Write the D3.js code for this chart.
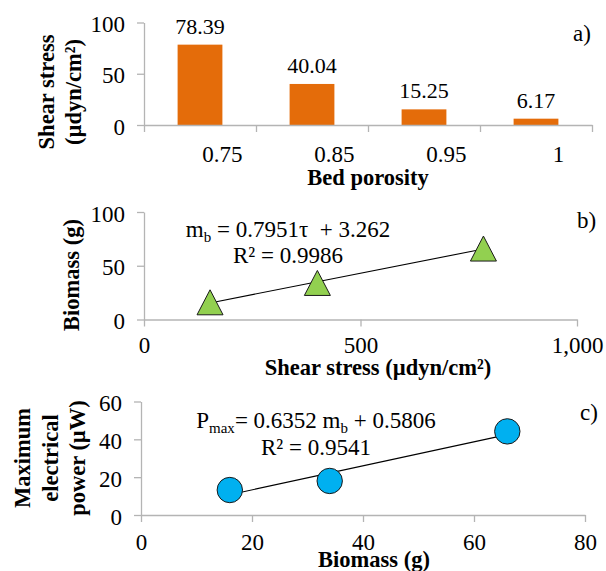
<!DOCTYPE html>
<html>
<head>
<meta charset="utf-8">
<script src="https://cdn.jsdelivr.net/npm/d3@7"></script>
<style>
  html, body { margin: 0; padding: 0; background: #fff; }
  svg { display: block; }
  svg text { white-space: pre; }
</style>
</head>
<body>
<svg id="chart" width="606" height="571"></svg>
<script>
// ---- data ----
const porosity = ["0.75", "0.85", "0.95", "1"];
const shearStress = [78.39, 40.04, 15.25, 6.17];      // µdyn/cm², panel a bars
const tauPoints = [152.5, 400.4, 783.9];              // panel b x values
const biomass = [16, 34, 66];                         // g, panels b (y) and c (x)
const maxPower = [13.2, 18.0, 44.2];                  // µW, panel c y values

const ticksAy = [0, 50, 100];
const ticksBy = [0, 50, 100];
const ticksBx = [0, 500, 1000];
const ticksCy = [0, 20, 40, 60];
const ticksCx = [0, 20, 40, 60, 80];

// linear fits printed on panels b and c
const fitB = { slope: 0.7951, intercept: 3.262, r2: "0.9986" };
const fitC = { slope: 0.6352, intercept: 0.5806, r2: "0.9541" };
const tauAxisFactor = 10;   // panel b's τ axis runs at 10× the bar-chart units

// ---- styles ----
const serif = "'Liberation Serif', 'Times New Roman', Times, serif";
const axisColor = "#b4b4b4";
const barColor = "#E46C0A";
const triColor = "#92D050";
const dotColor = "#00B0F0";
const tickFont = 23;
const titleFont = 22.5;

const svg = d3.select("#chart").attr("font-family", serif);

function styleAxis(g) {
  g.attr("font-family", serif).attr("font-size", tickFont);
  g.select(".domain").attr("stroke", axisColor).attr("stroke-width", 1.3);
  g.selectAll(".tick line").attr("stroke", axisColor).attr("stroke-width", 1.3);
  g.selectAll(".tick text").attr("fill", "#000").attr("font-family", serif);
}

function yAxis(scale, x, values, fmt) {
  const g = svg.append("g").attr("transform", `translate(${x},0)`)
    .call(d3.axisLeft(scale).tickValues(values).tickSize(7).tickSizeOuter(0)
      .tickPadding(12).tickFormat(fmt || d3.format("d")));
  styleAxis(g);
  g.selectAll(".tick text").attr("dy", "0.4em");
  return g;
}

function xAxis(scale, y, values, pad, fmt) {
  const g = svg.append("g").attr("transform", `translate(0,${y})`)
    .call(d3.axisBottom(scale).tickValues(values).tickSize(7).tickSizeOuter(0)
      .tickPadding(pad).tickFormat(fmt || d3.format("d")));
  styleAxis(g);
  return g;
}

function rotatedTitle(lines, cy, baselines) {
  const g = svg.append("g");
  lines.forEach((ln, i) => {
    g.append("text")
      .attr("transform", `translate(${baselines[i]},${cy}) rotate(-90)`)
      .attr("text-anchor", "middle")
      .attr("font-family", serif)
      .attr("font-weight", "bold")
      .attr("font-size", titleFont)
      .text(ln);
  });
}

function addText(x, y, size, txt, anchor, bold) {
  return svg.append("text").attr("x", x).attr("y", y)
    .attr("font-family", serif).attr("font-size", size)
    .attr("text-anchor", anchor || "start")
    .attr("font-weight", bold ? "bold" : null)
    .text(txt);
}

// ================= panel a: bar chart =================
const xA = d3.scaleBand().domain(porosity).range([144, 592]).paddingInner(0.6).paddingOuter(0.3);
const yA = d3.scaleLinear().domain([0, 100]).range([125, 22.5]);

svg.append("g").selectAll("rect").data(porosity).join("rect")
  .attr("x", d => xA(d))
  .attr("y", (d, i) => yA(shearStress[i]))
  .attr("width", xA.bandwidth())
  .attr("height", (d, i) => yA(0) - yA(shearStress[i]))
  .attr("fill", barColor);

svg.append("g").selectAll("text").data(porosity).join("text")
  .attr("x", d => xA(d) + xA.bandwidth() / 2)
  .attr("y", (d, i) => yA(shearStress[i]) - 11)
  .attr("text-anchor", "middle")
  .attr("font-family", serif)
  .attr("font-size", 22)
  .text((d, i) => d3.format(".2f")(shearStress[i]));

yAxis(yA, 144, ticksAy);

// category boundaries carry the tick marks, labels sit under the bars
const boundA = d3.scaleLinear().domain([0, porosity.length]).range(xA.range());
const gA = svg.append("g").attr("transform", `translate(0,${yA(0)})`)
  .call(d3.axisBottom(boundA).tickValues(d3.range(porosity.length + 1)).tickSize(7).tickSizeOuter(0).tickFormat(""));
styleAxis(gA);
const gAl = svg.append("g").attr("transform", `translate(${xA.bandwidth() / 2},${yA(0)})`)
  .call(d3.axisBottom(xA).tickSize(0).tickPadding(21));
styleAxis(gAl);
gAl.select(".domain").remove();

addText(368, 185, titleFont, "Bed porosity", "middle", true);
rotatedTitle(["Shear stress", "(µdyn/cm²)"], 92, [54, 81]);
addText(573, 41, tickFont, "a)");

// ================= panel b: biomass vs shear stress =================
const xB = d3.scaleLinear().domain([0, 1000]).range([144, 577]);
const yB = d3.scaleLinear().domain([0, 100]).range([319.5, 212]);

yAxis(yB, 144, ticksBy);
xAxis(xB, yB(0), ticksBx, 10, d3.format(","));

const lineB = d3.line().x(d => xB(d)).y(d => yB(fitB.slope * d / tauAxisFactor + fitB.intercept));
svg.append("path").attr("d", lineB(d3.extent(tauPoints)))
  .attr("fill", "none").attr("stroke", "#000").attr("stroke-width", 1.1);

const triW = 26, triH = 25;
svg.append("g").selectAll("path").data(tauPoints).join("path")
  .attr("transform", (d, i) => `translate(${xB(d)},${yB(biomass[i])})`)
  .attr("d", `M0,${-triH / 2}L${triW / 2},${triH / 2}L${-triW / 2},${triH / 2}Z`)
  .attr("fill", triColor).attr("stroke", "#1a1a1a").attr("stroke-width", 1);

const eqB1 = addText(288, 237, 23, "", "middle");
eqB1.append("tspan").text("m");
eqB1.append("tspan").attr("font-size", 15).attr("dy", 5).text("b");
eqB1.append("tspan").attr("dy", -5).text(` = ${fitB.slope}τ  + ${fitB.intercept}`);
addText(288, 263, 23, `R² = ${fitB.r2}`, "middle");

addText(378, 375, titleFont, "Shear stress (µdyn/cm²)", "middle", true);
rotatedTitle(["Biomass (g)"], 275, [79]);
addText(577, 228, tickFont, "b)");

// ================= panel c: power vs biomass =================
const xC = d3.scaleLinear().domain([0, 80]).range([141, 585]);
const yC = d3.scaleLinear().domain([0, 60]).range([515, 401.5]);

yAxis(yC, 141, ticksCy);
xAxis(xC, yC(0), ticksCx, 11.5);

const lineC = d3.line().x(d => xC(d)).y(d => yC(fitC.slope * d + fitC.intercept));
svg.append("path").attr("d", lineC(d3.extent(biomass)))
  .attr("fill", "none").attr("stroke", "#000").attr("stroke-width", 1.1);

svg.append("g").selectAll("circle").data(biomass).join("circle")
  .attr("cx", d => xC(d))
  .attr("cy", (d, i) => yC(maxPower[i]))
  .attr("r", 12.7)
  .attr("fill", dotColor).attr("stroke", "#1a1a1a").attr("stroke-width", 1);

const eqC1 = addText(316, 428, 23, "", "middle");
eqC1.append("tspan").text("P");
eqC1.append("tspan").attr("font-size", 15).attr("dy", 5).text("max");
eqC1.append("tspan").attr("dy", -5).text(`= ${fitC.slope} m`);
eqC1.append("tspan").attr("font-size", 15).attr("dy", 5).text("b");
eqC1.append("tspan").attr("dy", -5).text(` + ${fitC.intercept}`);
addText(316, 455, 23, `R² = ${fitC.r2}`, "middle");

addText(374, 567, titleFont, "Biomass (g)", "middle", true);
rotatedTitle(["Maximum", "electrical", "power (µW)"], 458, [30, 58, 85]);
addText(580, 420, tickFont, "c)");
</script>
</body>
</html>
